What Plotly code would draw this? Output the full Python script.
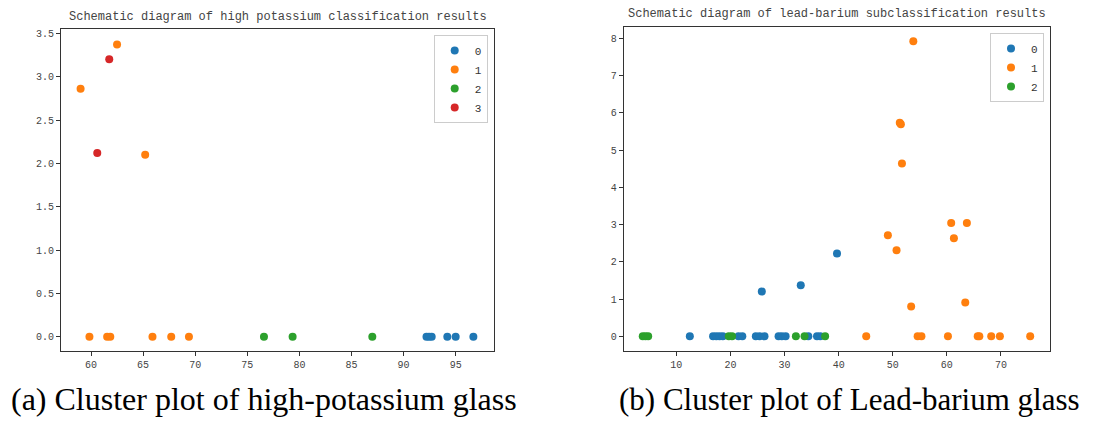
import plotly.graph_objects as go

# ---- (a) high-potassium glass clusters ----
k_labels = ["0", "1", "2", "3"]
k0_x = [92.2, 92.45, 92.7, 94.2, 95.0, 96.7]
k0_y = [0, 0, 0, 0, 0, 0]
k1_x = [59.0, 62.5, 65.2, 59.85, 61.55, 61.85, 65.9, 67.7, 69.4]
k1_y = [2.86, 3.37, 2.10, 0, 0, 0, 0, 0, 0]
k2_x = [76.6, 79.35, 87.0]
k2_y = [0, 0, 0]
k3_x = [61.75, 60.6]
k3_y = [3.20, 2.12]

# ---- (b) lead-barium glass clusters ----
p_labels = ["0", "1", "2"]
p0_x = [12.5, 16.8, 17.4, 18.0, 18.6, 21.5, 22.2, 24.7, 25.4, 26.3, 28.9, 29.5, 30.2,
        34.4, 36.0, 36.6, 25.8, 33.0, 39.7]
p0_y = [0, 0, 0, 0, 0, 0, 0, 0, 0, 0, 0, 0, 0, 0, 0, 0, 1.20, 1.37, 2.22]
p1_x = [45.1, 54.6, 55.3, 60.2, 65.7, 66.0, 68.2, 69.8, 75.4, 49.1, 50.7, 53.4, 60.8,
        61.3, 63.7, 63.4, 53.8, 51.3, 51.5, 51.7]
p1_y = [0, 0, 0, 0, 0, 0, 0, 0, 0, 2.71, 2.31, 0.80, 3.04, 2.63, 3.04, 0.91, 7.92,
        5.73, 5.69, 4.64]
p2_x = [3.8, 4.3, 4.8, 19.7, 20.3, 32.1, 33.7, 37.5]
p2_y = [0, 0, 0, 0, 0, 0, 0, 0]

colors = ["#1f77b4", "#ff7f0e", "#2ca02c", "#d62728"]
mono = "Liberation Mono"

fig = go.Figure()
for i, (x, y) in enumerate([(k0_x, k0_y), (k1_x, k1_y), (k2_x, k2_y), (k3_x, k3_y)]):
    fig.add_trace(go.Scatter(x=x, y=y, mode="markers", name=k_labels[i],
                             marker=dict(color=colors[i], size=8),
                             xaxis="x", yaxis="y", legend="legend"))
for i, (x, y) in enumerate([(p0_x, p0_y), (p1_x, p1_y), (p2_x, p2_y)]):
    fig.add_trace(go.Scatter(x=x, y=y, mode="markers", name=p_labels[i],
                             marker=dict(color=colors[i], size=8),
                             xaxis="x2", yaxis="y2", legend="legend2"))

axis_common = dict(showgrid=False, zeroline=False, showline=True, linecolor="#333",
                   linewidth=1, mirror=True, ticks="outside", ticklen=4, tickcolor="#333",
                   tickfont=dict(family=mono, size=10, color="#444"))

fig.update_layout(
    width=1094, height=421,
    margin=dict(l=0, r=0, t=0, b=0),
    paper_bgcolor="white", plot_bgcolor="white",
    showlegend=True,
    xaxis=dict(domain=[61/1094, 494/1094], range=[57.12, 98.68], dtick=5, tick0=60,
               anchor="y", **axis_common),
    yaxis=dict(domain=[70/421, 392/421], range=[-0.165, 3.55], dtick=0.5, tick0=0,
               tickformat=".1f", anchor="x", **axis_common),
    xaxis2=dict(domain=[623.7/1094, 1050/1094], range=[0.28, 79.06], dtick=10, tick0=0,
                anchor="y2", **axis_common),
    yaxis2=dict(domain=[70/421, 393.7/421], range=[-0.395, 8.295], dtick=1, tick0=0,
                anchor="x2", **axis_common),
    legend=dict(x=487.7/1094, y=(421-35)/421, xanchor="right", yanchor="top",
                bgcolor="white", bordercolor="#ccc", borderwidth=1, tracegroupgap=0,
                font=dict(family=mono, size=11, color="#333")),
    legend2=dict(x=1044/1094, y=(421-33)/421, xanchor="right", yanchor="top",
                 bgcolor="white", bordercolor="#ccc", borderwidth=1, tracegroupgap=0,
                 font=dict(family=mono, size=11, color="#333")),
    annotations=[
        dict(text="Schematic diagram of high potassium classification results",
             x=277.5/1094, y=(421-17)/421, xref="paper", yref="paper",
             xanchor="center", yanchor="middle", showarrow=False,
             font=dict(family=mono, size=12, color="#444")),
        dict(text="Schematic diagram of lead-barium subclassification results",
             x=836.8/1094, y=(421-14)/421, xref="paper", yref="paper",
             xanchor="center", yanchor="middle", showarrow=False,
             font=dict(family=mono, size=12, color="#444")),
        dict(text="(a) Cluster plot of high-potassium glass",
             x=263.5/1094, y=22/421, xref="paper", yref="paper",
             xanchor="center", yanchor="middle", showarrow=False,
             font=dict(family="Liberation Serif", size=32, color="black")),
        dict(text="(b) Cluster plot of Lead-barium glass",
             x=849.5/1094, y=22/421, xref="paper", yref="paper",
             xanchor="center", yanchor="middle", showarrow=False,
             font=dict(family="Liberation Serif", size=31, color="black")),
    ],
)

fig.write_html("out.html", config={"displayModeBar": False},
               post_script="document.body.style.margin='0';")
